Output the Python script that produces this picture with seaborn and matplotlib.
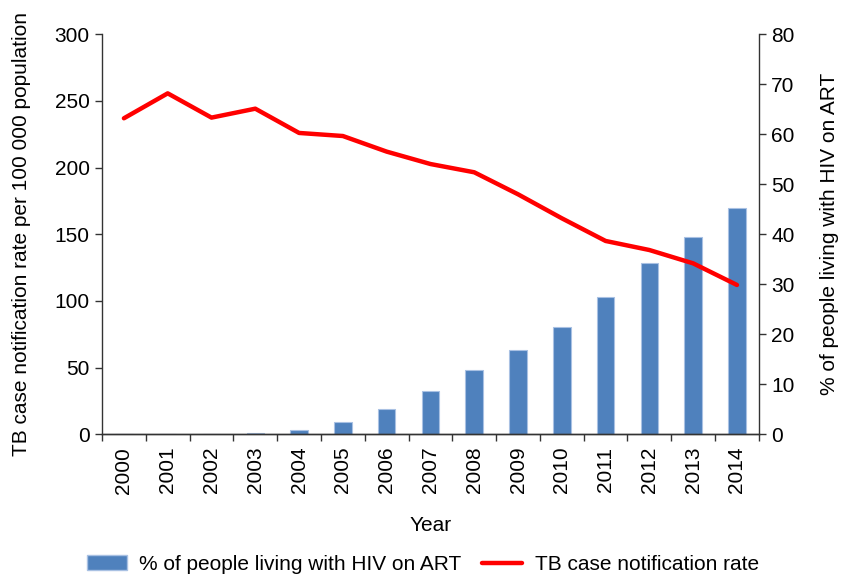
import matplotlib
matplotlib.use("Agg")
import matplotlib.pyplot as plt
import seaborn as sns
import numpy as np
import pandas as pd
from matplotlib.patches import Patch
from matplotlib.lines import Line2D

years = ["2000", "2001", "2002", "2003", "2004", "2005", "2006", "2007",
         "2008", "2009", "2010", "2011", "2012", "2013", "2014"]
tb_rate = [237.0, 255.7, 237.5, 244.2, 226.0, 223.7, 212.0, 202.7,
           196.5, 180.0, 162.0, 145.0, 138.2, 128.2, 112.0]
art_pct = [0.0, 0.0, 0.0, 0.2, 0.9, 2.4, 5.1, 8.6,
           12.8, 16.9, 21.4, 27.4, 34.3, 39.4, 45.2]

df = pd.DataFrame({"Year": years, "TB": tb_rate, "ART": art_pct})

sns.set_theme(style="white")
plt.rcParams["font.family"] = ["Liberation Sans", "DejaVu Sans"]
plt.rcParams["text.color"] = "black"
plt.rcParams["axes.labelcolor"] = "black"
plt.rcParams["xtick.color"] = "black"
plt.rcParams["ytick.color"] = "black"

FS = 15

fig = plt.figure(figsize=(8.46, 5.77), dpi=100)
ax = fig.add_axes([0.1206, 0.2473, 0.897 - 0.1206, 0.9406 - 0.2473])
ax2 = ax.twinx()

sns.barplot(data=df, x="Year", y="ART", ax=ax2, color="#4F81BD",
            saturation=1, width=0.4, edgecolor="#A9C1E3", linewidth=0.8)
sns.lineplot(data=df, x="Year", y="TB", ax=ax, color="#FF0000",
             linewidth=3.2, sort=False)

ax.set_zorder(ax2.get_zorder() + 1)
ax.patch.set_visible(False)

ax.set_xlim(-0.5, len(years) - 0.5)
ax.set_ylim(0, 300)
ax2.set_ylim(0, 80)
ax.set_yticks(np.arange(0, 301, 50))
ax2.set_yticks(np.arange(0, 81, 10))

ax.set_xticks(np.arange(len(years)))
ax.set_xticklabels(years, rotation=90, fontsize=FS)
ax.tick_params(axis="x", length=0, pad=9)
ax.set_xticks(np.arange(-0.5, len(years), 1), minor=True)
ax.tick_params(axis="x", which="minor", length=5, width=1, color="#333333", bottom=True)
ax2.tick_params(axis="x", length=0)
ax2.set_xlabel("")

ax.tick_params(axis="y", left=True, length=5, width=1, color="#333333", labelsize=FS, pad=4)
ax2.tick_params(axis="y", right=True, length=5, width=1, color="#333333", labelsize=FS, pad=4)

ax.set_ylabel("TB case notification rate per 100 000 population", fontsize=FS, labelpad=17)
ax2.set_ylabel("% of people living with HIV on ART", fontsize=FS, labelpad=18)
ax.set_xlabel("Year", fontsize=FS, labelpad=16)

for a in (ax, ax2):
    a.spines["top"].set_visible(False)
    for s in ("left", "right", "bottom"):
        a.spines[s].set_color("#333333")
        a.spines[s].set_linewidth(1)
ax.spines["right"].set_visible(False)
ax2.spines["left"].set_visible(False)
ax.grid(False)
ax2.grid(False)

handles = [Patch(facecolor="#4F81BD", edgecolor="#A9C1E3"),
           Line2D([0], [0], color="#FF0000", linewidth=3.2)]
labels = ["% of people living with HIV on ART", "TB case notification rate"]
fig.legend(handles, labels, loc="center", bbox_to_anchor=(0.5, 0.022),
           ncol=2, frameon=False, fontsize=FS, handlelength=1.9,
           columnspacing=1.0, handletextpad=0.6)

fig.savefig("out.png", dpi=100)
